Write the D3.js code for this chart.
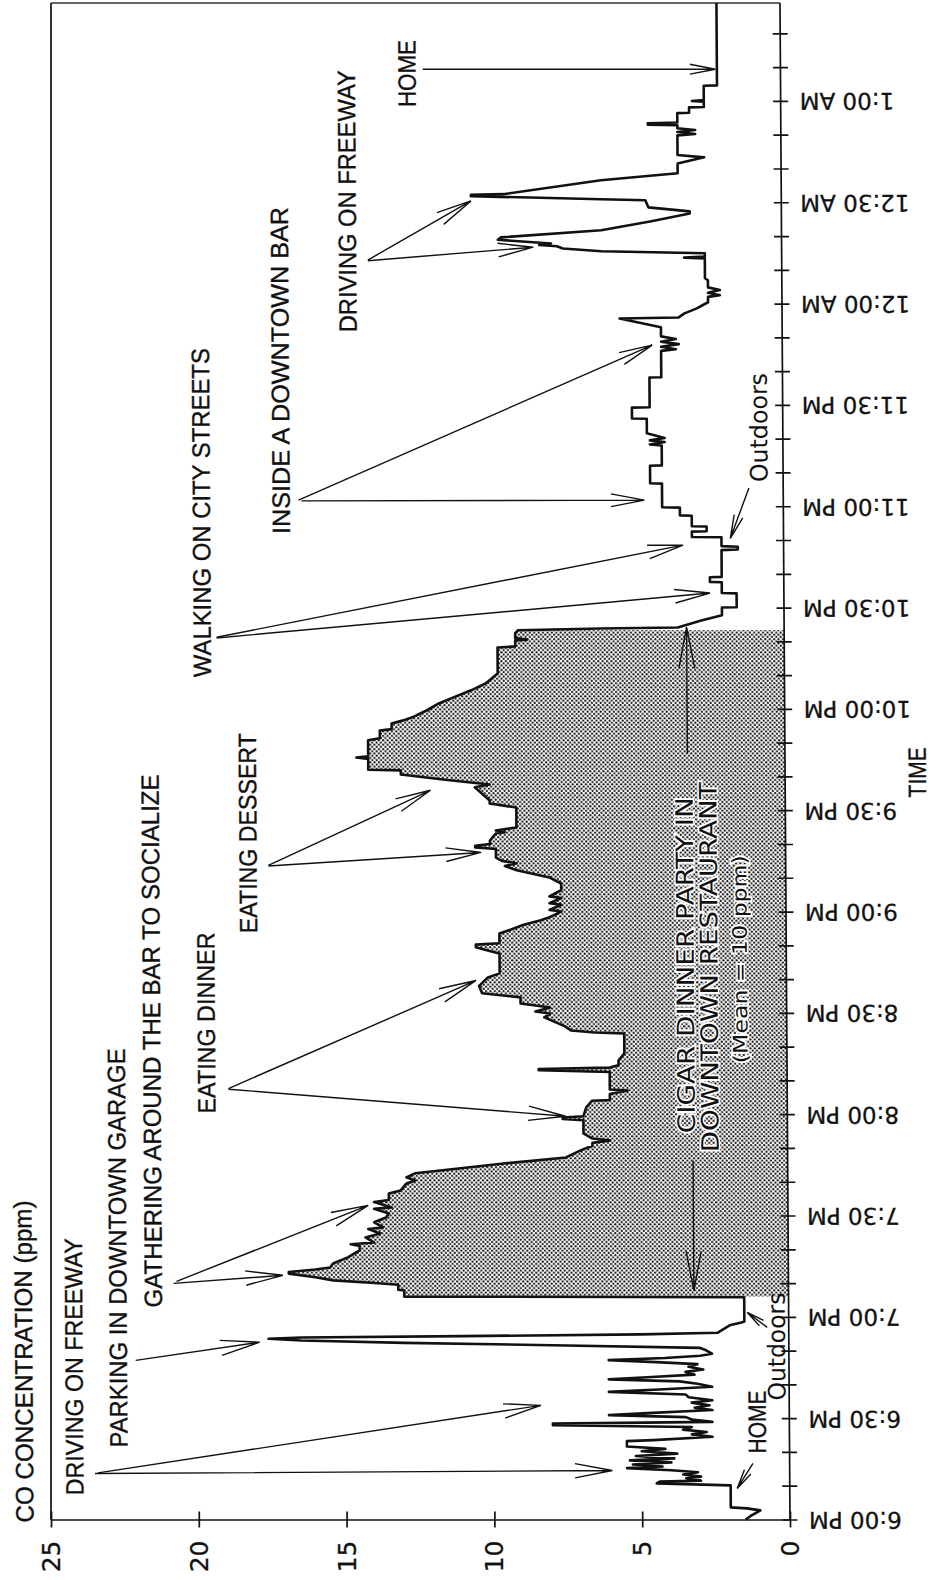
<!DOCTYPE html>
<meta charset="utf-8">
<style>
    body { margin: 0; background: #fff; }
    svg { display: block; background: #fff; }
    .note { font-family: "Liberation Sans Narrow", "Liberation Sans", Arial, sans-serif; fill: #111; stroke: #111; stroke-width: 0.35; }
    .round { font-family: "DejaVu Sans Condensed", "DejaVu Sans", sans-serif; fill: #111; }
    .axis text { font-family: "DejaVu Sans", sans-serif; fill: #111; stroke: #111; stroke-width: 0.3; }
    .axis path, .axis line { stroke: #111; stroke-width: 1.7; }
</style>
<svg width="938" height="1580"></svg>
<script src="https://d3js.org/d3.v7.min.js"></script>
<script>

    // minutes after 6:00 PM, CO in ppm
    var homeEvening = [[0, 1.5], [1.2, 1.3], [2.2, 1.1], [2.7, 1.0], [3.3, 1.45], [3.6, 2.0], [10.1, 2.0]];

    var driveOut = [[10.7, 4.5], [11.2, 4.4], [11.5, 3.0], [12.2, 3.5], [12.7, 3.0], [13.3, 3.6], [14, 3.1],
        [14.6, 4.0], [15.2, 5.5], [15.7, 4.3], [16.3, 5.3], [16.9, 4.0], [17.5, 5.4], [18.1, 3.9], [18.8, 5.2],
        [19.5, 3.8], [20.2, 5.0], [20.9, 4.2], [21.6, 5.5], [23.2, 5.5], [23.5, 4.6], [24.5, 2.6], [25.2, 3.3],
        [25.9, 2.8], [26.6, 3.6], [27.4, 3.3], [27.9, 8.0], [28.4, 8.0], [28.9, 2.6], [29.6, 3.3], [30.3, 3.5],
        [30.9, 6.1], [31.5, 4.8], [32.4, 2.6], [33.1, 3.2], [33.8, 2.7], [34.6, 3.3], [35.3, 2.6], [36.2, 3.4],
        [37, 3.5], [37.8, 6.1], [38.5, 4.4], [39.3, 2.6], [40.2, 3.1], [40.9, 3.7], [41.5, 6.1], [42.1, 4.8],
        [42.9, 3.2], [43.7, 3.5], [44.4, 2.9], [45.2, 3.4], [46, 3.1], [46.6, 4.5], [47.2, 6.1], [47.8, 4.2],
        [48.5, 3.0], [49.1, 2.6], [50.1, 2.8], [50.8, 3.0], [51.6, 8.0], [52.3, 13.0], [53, 16.5], [53.5, 17.6],
        [53.9, 16.5], [54.3, 11.0], [54.8, 5.0], [55.3, 2.4], [57.5, 2.0], [58.3, 1.6], [58.6, 1.5], [65.8, 1.5]];

    var cigarDinner = [[66, 13.0], [67.8, 13.0], [68, 13.2], [69.5, 13.2], [70, 14.0], [70.8, 15.4], [71.7, 16.0],
        [72.8, 16.9], [73.3, 16.9], [74, 16.0], [74.6, 15.5], [75.8, 15.4], [77.6, 14.9], [79.7, 14.5], [81, 14.5],
        [81.5, 14.8], [82, 14.0], [83.5, 14.3], [84.7, 13.8], [86, 14.2], [86.5, 13.7], [88, 14.0], [89.4, 13.6],
        [90.6, 13.5], [92, 14.0], [92.4, 13.4], [94, 14.0], [94.6, 13.5], [96.5, 13.5], [97.4, 13.1], [99.5, 12.9],
        [100.4, 12.6], [101.3, 12.9], [102.5, 12.6], [105.4, 9.6], [107.2, 7.5], [109.3, 7.0], [110, 6.8],
        [110.6, 6.6], [111.5, 6.6], [112.2, 6.0], [112.8, 6.6], [114.3, 6.9], [118.2, 6.9], [118.6, 7.6],
        [119, 7.6], [119.4, 6.9], [122, 6.8], [124, 6.6], [124.2, 6.0], [126, 6.0], [127, 5.4], [127.3, 6.0],
        [129.4, 6.0], [132.5, 6.0], [133, 8.4], [133.4, 8.4], [133.8, 6.0], [134.5, 5.7], [135.9, 5.7],
        [138, 5.5], [143.9, 5.5], [144.2, 6.5], [144.8, 7.3], [146, 7.5], [148.7, 8.2], [149.8, 8.0],
        [150.4, 8.5], [151.6, 8.0], [152.8, 9.0], [154.6, 9.0], [155.8, 10.3], [158, 10.4], [160.5, 10.1],
        [161.7, 9.7], [167.6, 9.7], [168.5, 10.1], [169.4, 10.5], [170.2, 10.5], [170.6, 9.7], [173.5, 9.7],
        [174.4, 9.4], [176, 8.9], [177.4, 8.3], [178.3, 8.0], [180, 7.6], [180.5, 8.0], [182, 7.6], [182.5, 8.0],
        [184, 7.6], [184.5, 8.0], [186.3, 7.6], [188.3, 7.6], [190.1, 8.0], [192.2, 9.1], [193.5, 9.5],
        [194.3, 9.1], [195, 9.6], [196, 9.8], [198.5, 9.8], [199, 10.5], [199.5, 10.5], [200, 10.0], [201, 10.0],
        [203.1, 9.8], [203.5, 9.5], [204, 9.8], [204.9, 9.1], [210.8, 9.1], [212, 10.0], [212.9, 10.0],
        [216.8, 10.5], [217.6, 10.0], [219, 11.5], [220.6, 13.0], [221.8, 13.0], [222, 14.1], [225.2, 14.1],
        [225.6, 14.5], [226, 14.1], [230.7, 14.1], [231.3, 13.7], [233.6, 13.7], [234, 13.3], [235.7, 13.3],
        [236.6, 12.9], [237.5, 12.6], [239.6, 12.1], [241.6, 11.7], [243.4, 11.2], [245.5, 10.6], [247.6, 10.1],
        [250.5, 9.7], [258.2, 9.7], [258.5, 9.1], [260.3, 9.1], [260.5, 8.7], [261, 9.1], [262.4, 9.1], [263.3, 9.0]];

    var barAndHome = [[263.8, 6.2], [264.1, 3.6], [266.2, 2.8], [267.7, 2.1], [270, 2.1], [270.1, 1.6], [274.2, 1.6],
        [274.3, 2.1], [277.5, 2.1], [277.6, 2.5], [279, 2.5], [279.1, 2.1], [287, 2.1], [287.2, 1.55], [288, 1.55],
        [288.2, 2.1], [290.8, 2.1], [290.9, 3.1], [292.5, 3.1], [292.6, 2.6], [294, 2.6], [294.1, 3.1], [297.2, 3.1],
        [297.3, 3.5], [299.6, 3.5], [299.7, 4.1], [306.7, 4.1], [306.8, 4.5], [312, 4.5], [312.1, 4.1], [318, 4.1],
        [318.3, 4.5], [319, 4.0], [319.5, 4.5], [320.2, 4.0], [321.6, 4.6], [325.9, 4.6], [326, 5.1], [329.2, 5.1],
        [329.3, 4.5], [338.1, 4.5], [338.2, 4.1], [346, 4.1], [346.5, 3.6], [347.2, 4.1], [348, 3.5], [348.7, 4.1],
        [349.5, 3.6], [350.3, 4.1], [353, 4.1], [355.6, 5.5], [355.9, 3.5], [357.1, 3.3], [358.5, 2.9], [360.4, 2.5],
        [362, 2.5], [362.5, 2.1], [363.2, 2.5], [364, 2.1], [364.8, 2.5], [366.9, 2.5], [367.5, 2.6], [373.4, 2.6],
        [373.6, 3.3], [373.9, 2.6], [374.9, 2.6], [375.5, 6.1], [376.3, 7.4], [377, 7.6], [377.4, 8.2], [377.8, 7.8],
        [378.9, 9.6], [379.6, 9.5], [381.7, 6.1], [384.4, 4.4], [386.7, 3.1], [387.3, 3.1], [388.5, 4.5],
        [390.6, 4.6], [390.9, 6.1], [391.4, 8.5], [391.8, 10.5], [392.2, 10.5], [392.4, 9.4], [396.5, 6.1],
        [398.6, 3.5], [401.5, 3.5], [403.3, 2.6], [404, 3.5], [409.8, 3.5], [410.2, 2.9], [410.8, 3.5],
        [411.4, 2.9], [411.9, 3.5], [412.8, 3.5], [413, 4.5], [413.4, 4.5], [413.6, 3.5], [416.4, 3.5],
        [416.5, 3.1], [418.1, 3.1], [418.2, 2.6], [419.8, 2.6], [420, 3.0], [420.3, 2.6], [424.5, 2.6],
        [424.6, 2.15], [449, 2.15]];

    var shadeFrom = 66, shadeTo = 263.3;

    var ppmTicks = [0, 5, 10, 15, 20, 25];
    var timeTicks = d3.range(0, 441, 10);
    var timeLabels = ["6:00 PM", "6:30 PM", "7:00 PM", "7:30 PM", "8:00 PM", "8:30 PM", "9:00 PM", "9:30 PM",
        "10:00 PM", "10:30 PM", "11:00 PM", "11:30 PM", "12:00 AM", "12:30 AM", "1:00 AM"];

    var svg = d3.select("svg");

    var x = d3.scaleLinear().domain([0, 25]).range([790, 51]),
        y = d3.scaleLinear().domain([0, 449]).range([1519.5, 3]);

    var data = homeEvening.concat(driveOut, cigarDinner, barAndHome)
        .map(function (d) { return { t: d[0], v: d[1] }; });

    // dot screen for the dinner party
    var pat = svg.append("defs").append("pattern")
        .attr("id", "dots")
        .attr("patternUnits", "userSpaceOnUse")
        .attr("width", 4.4).attr("height", 4.4);
    pat.append("circle").attr("cx", 1.1).attr("cy", 1.1).attr("r", 1.1).attr("fill", "#111");
    pat.append("circle").attr("cx", 3.3).attr("cy", 3.3).attr("r", 1.1).attr("fill", "#111");

    // frame
    svg.append("line").attr("x1", 51).attr("x2", 51).attr("y1", 3).attr("y2", y(0))
        .attr("stroke", "#111").attr("stroke-width", 1.7);
    svg.append("line").attr("x1", 51).attr("x2", 780).attr("y1", 3).attr("y2", 3)
        .attr("stroke", "#333").attr("stroke-width", 1.4);

    // bottom (ppm) axis
    var xAxis = svg.append("g")
        .attr("class", "axis")
        .attr("transform", "translate(0," + y(0) + ")")
        .call(d3.axisBottom(x).tickValues(ppmTicks).tickSize(8).tickSizeOuter(0));
    xAxis.selectAll(".tick line").attr("y1", -8);
    xAxis.selectAll(".tick text")
        .attr("y", null).attr("dy", null)
        .attr("transform", "translate(0,21) rotate(-90)")
        .attr("text-anchor", "end")
        .attr("dominant-baseline", "central")
        .attr("font-size", 25);

    // the scan is slightly sheared: time axis leans left toward the top
    var g = svg.append("g")
        .attr("transform", "translate(0," + y(0) + ") skewX(0.378) translate(0," + (-y(0)) + ")");

    var shaded = data.filter(function (d) { return d.t >= shadeFrom && d.t <= shadeTo; });
    g.append("path")
        .datum(shaded)
        .attr("fill", "url(#dots)")
        .attr("d", d3.area()
            .x0(x(0))
            .x1(function (d) { return x(d.v); })
            .y(function (d) { return y(d.t); }));

    g.append("path")
        .datum(data)
        .attr("fill", "none")
        .attr("stroke", "#111")
        .attr("stroke-width", 2.6)
        .attr("stroke-linejoin", "round")
        .attr("d", d3.line()
            .x(function (d) { return x(d.v); })
            .y(function (d) { return y(d.t); }));

    // time axis on the right, labels upside down
    var yAxis = g.append("g")
        .attr("class", "axis")
        .attr("transform", "translate(" + x(0) + ",0)")
        .call(d3.axisRight(y).tickValues(timeTicks).tickSize(7.5).tickSizeOuter(0)
            .tickFormat(function (d) { return d % 30 === 0 ? timeLabels[d / 30] : ""; }));
    yAxis.select(".domain").attr("d", "M0," + y(0) + "V" + y(449));
    yAxis.selectAll(".tick line").attr("x1", -7.5);
    yAxis.selectAll(".tick text")
        .attr("x", null).attr("dy", null)
        .attr("transform", "translate(19,0) rotate(180)")
        .attr("text-anchor", "end")
        .attr("dominant-baseline", "central")
        .attr("font-size", 23);

    // annotations, placed in data units
    var notes = [
        { text: "CO CONCENTRATION (ppm)", t: 46.8, v: 25.9, len: 322 },
        { text: "DRIVING ON FREEWAY", t: 45.2, v: 24.2, len: 257 },
        { text: "PARKING IN DOWNTOWN GARAGE", t: 80.4, v: 22.7, len: 399 },
        { text: "GATHERING AROUND THE BAR TO SOCIALIZE", t: 141.7, v: 21.5, len: 533 },
        { text: "EATING DINNER", t: 147, v: 19.65, len: 181 },
        { text: "EATING DESSERT", t: 203.2, v: 18.2, len: 200 },
        { text: "WALKING ON CITY STREETS", t: 298.1, v: 19.7, len: 329 },
        { text: "INSIDE A DOWNTOWN BAR", t: 340.2, v: 17.0, len: 327 },
        { text: "DRIVING ON FREEWAY", t: 390.3, v: 14.7, len: 262 },
        { text: "HOME", t: 428.1, v: 12.65, len: 67 },
        { text: "HOME", t: 28.9, v: 1.1, len: 63 },
        { text: "TIME", t: 221.2, v: -4.46, len: 50 }
    ];
    var roundNotes = [
        { text: "Outdoors", t: 51.2, v: 0.4, len: 108, size: 24 },
        { text: "Outdoors", t: 323.3, v: 0.8, len: 109, size: 24 },
        { text: "CIGAR DINNER PARTY IN", t: 164.1, v: 3.4, len: 336, size: 24, halo: true },
        { text: "DOWNTOWN RESTAURANT", t: 163.5, v: 2.6, len: 370, size: 24, halo: true },
        { text: "(Mean = 10 ppm)", t: 165.9, v: 1.57, len: 208, size: 20, halo: true }
    ];

    g.selectAll(".note")
        .data(notes)
        .enter().append("text")
        .attr("class", "note")
        .attr("transform", function (d) { return "translate(" + x(d.v) + "," + y(d.t) + ") rotate(-90)"; })
        .attr("text-anchor", "middle")
        .attr("dominant-baseline", "central")
        .attr("font-size", 25)
        .attr("textLength", function (d) { return d.len; })
        .attr("lengthAdjust", "spacingAndGlyphs")
        .text(function (d) { return d.text; });

    g.selectAll(".round")
        .data(roundNotes)
        .enter().append("text")
        .attr("class", "round")
        .attr("transform", function (d) { return "translate(" + x(d.v) + "," + y(d.t) + ") rotate(-90)"; })
        .attr("text-anchor", "middle")
        .attr("dominant-baseline", "central")
        .attr("font-size", function (d) { return d.size; })
        .attr("textLength", function (d) { return d.len; })
        .attr("lengthAdjust", "spacingAndGlyphs")
        .attr("stroke", function (d) { return d.halo ? "#fff" : null; })
        .attr("stroke-width", function (d) { return d.halo ? 3 : null; })
        .attr("paint-order", "stroke")
        .text(function (d) { return d.text; });

    // arrows: from (t, v) to (t, v), head length in px
    var arrows = [
        [13.6, 23.5, 14.5, 6.0, 38], [13.8, 23.4, 33.8, 8.4, 38],
        [47.1, 22.1, 52.5, 17.9, 40],
        [69.9, 20.8, 72.3, 17.1, 38], [70.5, 20.7, 93, 14.2, 38],
        [127.6, 18.9, 159.6, 10.5, 38], [127.4, 18.9, 119.4, 7.5, 38],
        [193.7, 17.5, 215.9, 12.0, 36], [193.5, 17.5, 197.5, 10.3, 36],
        [261.2, 19.2, 288.5, 3.4, 36], [261.0, 19.2, 274.3, 2.5, 36],
        [301.8, 16.4, 347.7, 4.4, 34], [301.6, 16.3, 301.8, 4.7, 34],
        [372.9, 14.0, 390.4, 10.5, 36], [372.7, 14.0, 376.7, 8.4, 36],
        [429.4, 12.1, 429.4, 2.2, 26],
        [16.6, 1.24, 9.2, 1.78, 20],
        [56.9, 0.73, 61.3, 1.4, 18],
        [305.4, 1.16, 290.5, 1.8, 24],
        [226.9, 3.3, 264.2, 3.3, 42],
        [106.3, 3.2, 67.8, 3.2, 40]
    ];

    g.selectAll(".arrow")
        .data(arrows)
        .enter().append("path")
        .attr("class", "arrow")
        .attr("fill", "none")
        .attr("stroke", "#111")
        .attr("stroke-width", 1.4)
        .attr("d", function (d) {
            var x0 = x(d[1]), y0 = y(d[0]), x1 = x(d[3]), y1 = y(d[2]);
            var a = Math.atan2(y1 - y0, x1 - x0), h = d[4], s = 0.19;
            var b1 = [x1 - h * Math.cos(a - s), y1 - h * Math.sin(a - s)],
                b2 = [x1 - h * Math.cos(a + s), y1 - h * Math.sin(a + s)];
            return "M" + x0 + "," + y0 + "L" + x1 + "," + y1 +
                "M" + b1 + "L" + x1 + "," + y1 + "L" + b2;
        });

</script>
